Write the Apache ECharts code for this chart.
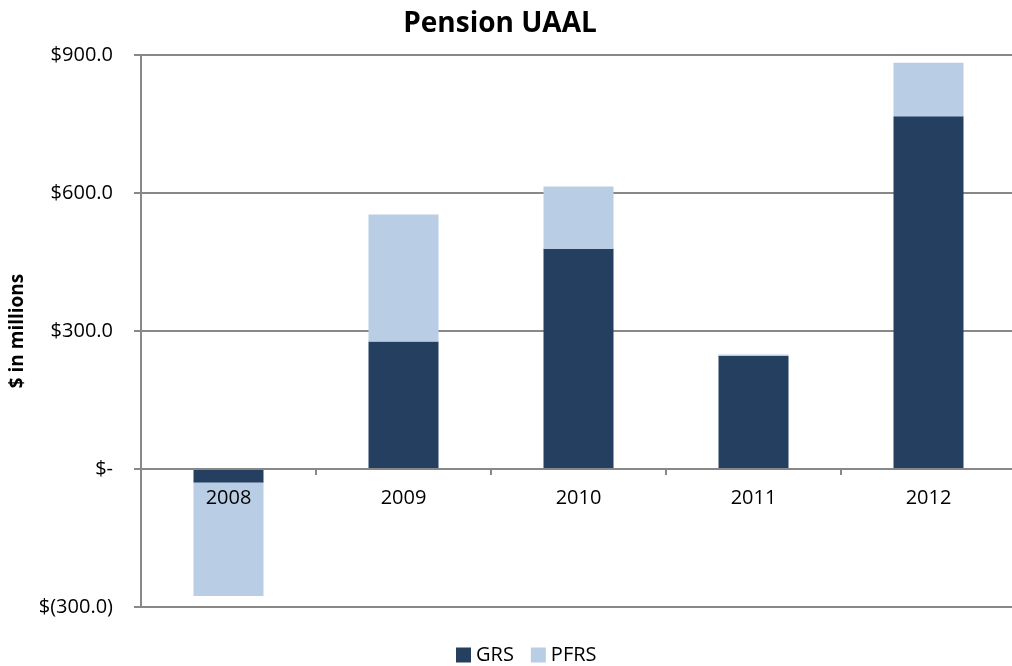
<!DOCTYPE html>
<html><head><meta charset="utf-8">
<script src="https://cdn.jsdelivr.net/npm/echarts@6/dist/echarts.min.js"></script>
<style>html,body{margin:0;padding:0;background:#fff}#c{width:1012px;height:666px}</style>
</head><body><div id="c"></div>
<script>
const categories = ['2008','2009','2010','2011','2012'];
const grs = [-30, 277, 479, 246, 767];
const pfrs = [-246, 276, 135, 3, 116];
const yTicks = [-300, 0, 300, 600, 900];

const font = '"Open Sans", "Liberation Sans", sans-serif';
const chart = echarts.init(document.getElementById('c'));
chart.setOption({
  animation: false,
  title: { text: 'Pension UAAL', left: 495, top: 5, textAlign: 'center',
    textStyle: { fontFamily: font, fontSize: 28, fontWeight: 'bold', color: '#000' } },
  legend: { top: 640, left: 451, itemWidth: 15, itemHeight: 15, itemGap: 17,
    icon: 'rect', textStyle: { fontFamily: font, fontSize: 20, color: '#000' },
    data: ['GRS', 'PFRS'] },
  grid: { left: 141, right: -4, top: 55, bottom: 59, outerBoundsMode: 'none', containLabel: false },
  xAxis: { type: 'category', data: categories, z: 10, offset: -138,
    axisLine: { onZero: false, lineStyle: { color: '#888', width: 2 } },
    axisTick: { show: true, length: 6, lineStyle: { color: '#888', width: 2 } },
    axisLabel: { fontFamily: font, fontSize: 20, color: '#000', margin: 19 } },
  yAxis: { type: 'value', min: -300, max: 900, interval: 300,
    name: '$ in millions', nameLocation: 'middle', nameGap: 114, nameRotate: 90,
    nameTextStyle: { fontFamily: font, fontSize: 19, fontWeight: 'bold', color: '#000' },
    axisLine: { show: true, lineStyle: { color: '#888', width: 2 } },
    axisTick: { show: true, length: 7, lineStyle: { color: '#888', width: 2 } },
    splitLine: { lineStyle: { color: '#888', width: 2 } },
    axisLabel: { fontFamily: font, fontSize: 20, color: '#000', margin: 28,
      formatter: v => v === 0 ? '$-' : (v < 0 ? '$(' + Math.abs(v).toFixed(1) + ')' : '$' + v.toFixed(1)) } },
  series: [
    { name: 'GRS', type: 'bar', stack: 'a', data: grs, barWidth: '40%',
      itemStyle: { color: '#243f60' } },
    { name: 'PFRS', type: 'bar', stack: 'a', data: pfrs, barWidth: '40%',
      itemStyle: { color: '#b9cde5' } }
  ]
});
</script></body></html>
